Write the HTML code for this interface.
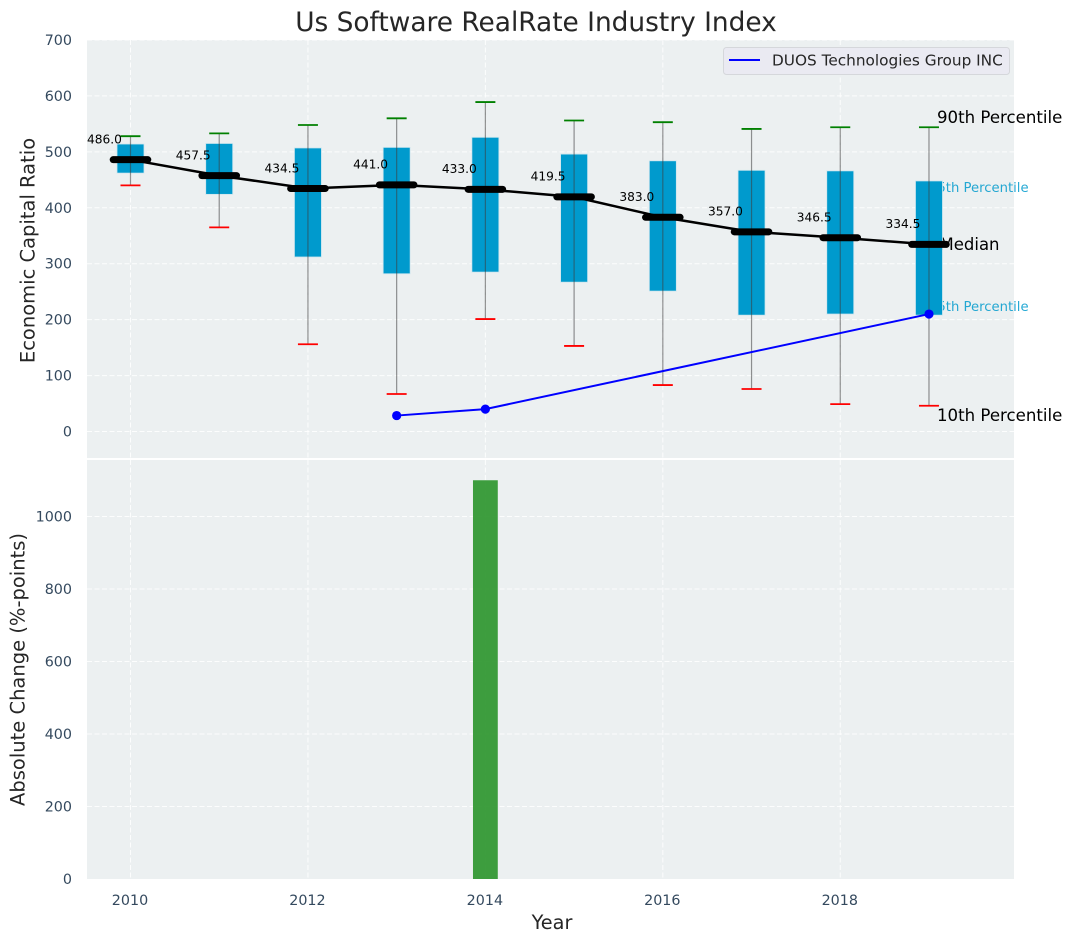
<!DOCTYPE html>
<html lang="en">
<head>
<meta charset="utf-8">
<title>Us Software RealRate Industry Index</title>
<style>
html,body{margin:0;padding:0;background:#fff;width:1072px;height:942px;overflow:hidden}
svg{display:block;font-family:"DejaVu Sans","Liberation Sans",sans-serif}
</style>
</head>
<body>
<svg id="chart" width="1072" height="942" viewBox="0 0 1072 942" xmlns="http://www.w3.org/2000/svg">
<rect x="87" y="40" width="927" height="418" fill="#ecf0f1"/>
<rect x="87" y="460" width="927" height="419" fill="#ecf0f1"/>
<g id="grid"></g>
<g id="annot">
<text x="937" y="123" font-size="16.6" fill="#000">90th Percentile</text>
<text x="929" y="192" font-size="13.2" fill="#009acd" fill-opacity="0.85">75th Percentile</text>
<text x="939.5" y="250" font-size="16.5" fill="#000">Median</text>
<text x="929" y="311" font-size="13.2" fill="#009acd" fill-opacity="0.85">25th Percentile</text>
<text x="937" y="421" font-size="16.6" fill="#000">10th Percentile</text>
</g>
<g id="marks"></g>
<g id="ticks"></g>
<text x="536" y="31" font-size="26.4" fill="#262626" text-anchor="middle">Us Software RealRate Industry Index</text>
<text transform="translate(34.5,250.5) rotate(-90)" font-size="19.5" fill="#262626" text-anchor="middle">Economic Capital Ratio</text>
<text transform="translate(24.5,669.5) rotate(-90)" font-size="19.5" fill="#262626" text-anchor="middle">Absolute Change (%-points)</text>
<text x="552" y="929" font-size="19.3" fill="#262626" text-anchor="middle">Year</text>
<g>
<rect x="723.5" y="47.5" width="286" height="27" rx="3" fill="#eaeaf2" stroke="#d5d7db"/>
<line x1="729" y1="60" x2="760" y2="60" stroke="#0000ff" stroke-width="2"/>
<text x="772" y="65.5" font-size="15.3" fill="#262626">DUOS Technologies Group INC</text>
</g>
</svg>
<script>
const years = [2010, 2011, 2012, 2013, 2014, 2015, 2016, 2017, 2018, 2019];
const p90 = [528, 533, 548, 560, 589, 556, 553, 541, 544, 544];
const p75 = [514, 515, 507, 508, 526, 496, 484, 467, 466, 448];
const medians = [486.0, 457.5, 434.5, 441.0, 433.0, 419.5, 383.0, 357.0, 346.5, 334.5];
const p25 = [462, 424, 312, 282, 285, 267, 251, 208, 210, 208];
const p10 = [440, 365, 156, 67, 201, 153, 83, 76, 49, 46];
const companyYears = [2013, 2014, 2019];
const companyValues = [28.5, 40, 210];
const changeYears = [2014];
const changeValues = [1100];
const xTicks = [2010, 2012, 2014, 2016, 2018];
const topTicks = [0, 100, 200, 300, 400, 500, 600, 700];
const bottomTicks = [0, 200, 400, 600, 800, 1000];

const xScale = v => 130.5 + (v - 2010) * 88.72;
const yTop = v => 431.5 - v * 0.5593;
const yBottom = v => 879 - v * 0.3625;
const NS = 'http://www.w3.org/2000/svg';
const gridG = document.getElementById('grid');
const marksG = document.getElementById('marks');
const ticksG = document.getElementById('ticks');

function make(parent, tag, attrs, text) {
  const el = document.createElementNS(NS, tag);
  for (const k in attrs) el.setAttribute(k, attrs[k]);
  if (text !== undefined) el.textContent = text;
  parent.appendChild(el);
  return el;
}
function gridLine(x1, y1, x2, y2, name) {
  const el = make(gridG, 'line', {x1, y1, x2, y2, stroke: '#ffffff', 'stroke-width': 1, 'stroke-dasharray': '5 2.5', 'stroke-opacity': 0.85});
  
  
}
xTicks.forEach(t => {
  gridLine(xScale(t), 40, xScale(t), 458, 'top-x-gridline');
  gridLine(xScale(t), 460, xScale(t), 879, 'bottom-x-gridline');
  const el = make(ticksG, 'text', {x: xScale(t) - 0.5, y: 905, 'font-size': 14.3, fill: '#34495e', 'text-anchor': 'middle'}, t);
  
  
});
topTicks.forEach(t => {
  gridLine(87, yTop(t), 1014, yTop(t), 'top-y-gridline');
  const el = make(ticksG, 'text', {x: 72, y: yTop(t) + 5, 'font-size': 14.3, fill: '#34495e', 'text-anchor': 'end'}, t);
  
  
});
bottomTicks.forEach(t => {
  if (t > 0) gridLine(87, yBottom(t), 1014, yBottom(t), 'bottom-y-gridline');
  const el = make(ticksG, 'text', {x: 72, y: yBottom(t) + 5, 'font-size': 14.3, fill: '#34495e', 'text-anchor': 'end'}, t);
  
  
});

years.forEach((yr, i) => {
  const x = xScale(yr);
  const box = make(marksG, 'rect', {x: x - 13.5, y: yTop(p75[i]), width: 27, height: yTop(p25[i]) - yTop(p75[i]), fill: '#009acd', stroke: '#cfe6ee', 'stroke-width': 0.8});
  
  
  const whisker = make(marksG, 'line', {x1: x, y1: yTop(p90[i]), x2: x, y2: yTop(p10[i]), stroke: '#3c3c3c', 'stroke-opacity': 0.55, 'stroke-width': 1.2});
  
  
  const capHi = make(marksG, 'line', {x1: x - 10, y1: yTop(p90[i]), x2: x + 10, y2: yTop(p90[i]), stroke: '#008000', 'stroke-width': 1.8});
  
  
  const capLo = make(marksG, 'line', {x1: x - 10, y1: yTop(p10[i]), x2: x + 10, y2: yTop(p10[i]), stroke: '#ff0000', 'stroke-width': 1.8});
  
  
});

const medianLine = make(marksG, 'polyline', {points: years.map((yr, i) => xScale(yr) + ',' + yTop(medians[i])).join(' '), fill: 'none', stroke: '#000', 'stroke-width': 2.5});



years.forEach((yr, i) => {
  const x = xScale(yr);
  const y = yTop(medians[i]);
  const bar = make(marksG, 'line', {x1: x - 17.3, y1: y, x2: x + 17.3, y2: y, stroke: '#000', 'stroke-width': 7, 'stroke-linecap': 'round'});
  
  
  const label = make(marksG, 'text', {x: x - 43.5, y: y - 16.2, 'font-size': 12.2, fill: '#000'}, medians[i].toFixed(1));
  
  
});

const companyLine = make(marksG, 'polyline', {points: companyYears.map((yr, i) => xScale(yr) + ',' + yTop(companyValues[i])).join(' '), fill: 'none', stroke: '#0000ff', 'stroke-width': 2});


companyYears.forEach((yr, i) => {
  const pt = make(marksG, 'circle', {cx: xScale(yr), cy: yTop(companyValues[i]), r: 4.6, fill: '#0000ff'});
  
  
});

changeYears.forEach((yr, i) => {
  const bar = make(marksG, 'rect', {x: xScale(yr) - 12.4, y: yBottom(changeValues[i]), width: 24.8, height: yBottom(0) - yBottom(changeValues[i]), fill: '#2e962f', 'fill-opacity': 0.92});
  
  
});
</script>
</body>
</html>
